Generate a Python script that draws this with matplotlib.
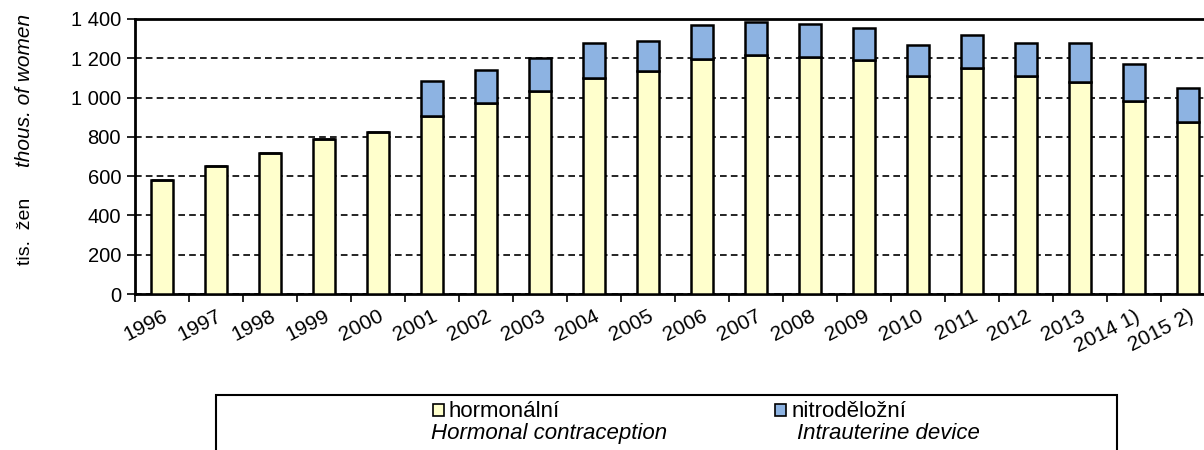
import matplotlib
matplotlib.use("Agg")
import matplotlib.pyplot as plt
from matplotlib.patches import Rectangle
from matplotlib.ticker import FuncFormatter

plt.rcParams['font.family'] = ['Liberation Sans', 'DejaVu Sans']

# Data (thousands of women)
roky = ['1996', '1997', '1998', '1999', '2000', '2001', '2002', '2003', '2004', '2005',
        '2006', '2007', '2008', '2009', '2010', '2011', '2012', '2013', '2014 1)', '2015 2)']
hormonalni = [580, 652, 718, 788, 825, 905, 973, 1034, 1101, 1134,
              1198, 1218, 1208, 1190, 1112, 1151, 1112, 1081, 984, 874]
nitrodelozni = [0, 0, 0, 0, 0, 178, 168, 166, 177, 154,
                170, 167, 168, 166, 158, 168, 166, 197, 186, 176]

barva_h = '#FFFFCC'
barva_n = '#8DB3E2'

fig = plt.figure(figsize=(12.04, 4.5), dpi=100)
ax = fig.add_axes([135 / 1204, 1 - 294 / 450, 1080 / 1204, 275 / 450])

x = list(range(len(roky)))
ax.bar(x, hormonalni, width=0.39, color=barva_h, edgecolor='black', linewidth=1.8, zorder=3)
ax.bar(x, nitrodelozni, width=0.39, bottom=hormonalni, color=barva_n,
       edgecolor='black', linewidth=1.8, zorder=3)

ax.set_xlim(-0.5, len(roky) - 0.5)
ax.set_ylim(0, 1400)
ax.set_yticks(range(0, 1401, 200))
ax.yaxis.set_major_formatter(FuncFormatter(lambda v, p: f'{int(v):,}'.replace(',', ' ')))
ax.yaxis.grid(True, linestyle=(0, (4, 2.5)), color='black', linewidth=1.2, zorder=0)

# x ticks: labels at centres, tick marks at boundaries
ax.set_xticks(x)
ax.set_xticklabels(roky, rotation=27, ha='right', va='top', rotation_mode='anchor')
ax.set_xticks([i - 0.5 for i in range(len(roky) + 1)], minor=True)
ax.tick_params(axis='x', which='major', length=0, pad=9, labelsize=15)
ax.tick_params(axis='x', which='minor', length=6, width=1.2, direction='out')
ax.tick_params(axis='y', length=6, width=1.2, labelsize=14.5, pad=4)

for s in ['left', 'bottom', 'top']:
    ax.spines[s].set_linewidth(2)
ax.spines['right'].set_visible(False)

# y axis label in two parts
fig.text(25 / 1204, 1 - 231 / 450, 'tis.  žen', rotation=90, ha='center', va='center', fontsize=14)
fig.text(25 / 1204, 1 - 90 / 450, 'thous. of women', rotation=90, ha='center', va='center',
         fontsize=15, style='italic')

# legend box
fig.add_artist(Rectangle((216 / 1204, -0.01), (1117 - 216) / 1204, (455 - 395) / 450,
                         transform=fig.transFigure, fill=False, edgecolor='black', linewidth=1.5))
for px, tx1, tx2, barva, cz, en in [(433, 449, 431, barva_h, 'hormonální', 'Hormonal contraception'),
                                    (775, 792, 797, barva_n, 'nitroděložní', 'Intrauterine device')]:
    fig.add_artist(Rectangle((px / 1204, 1 - 416 / 450), 11 / 1204, 12 / 450,
                             transform=fig.transFigure, facecolor=barva,
                             edgecolor='black', linewidth=1.2))
    fig.text(tx1 / 1204, 1 - 417 / 450, cz, ha='left', va='baseline', fontsize=16)
    fig.text(tx2 / 1204, 1 - 439 / 450, en, ha='left', va='baseline', fontsize=16,
             style='italic')

fig.savefig('out.png', dpi=100)
